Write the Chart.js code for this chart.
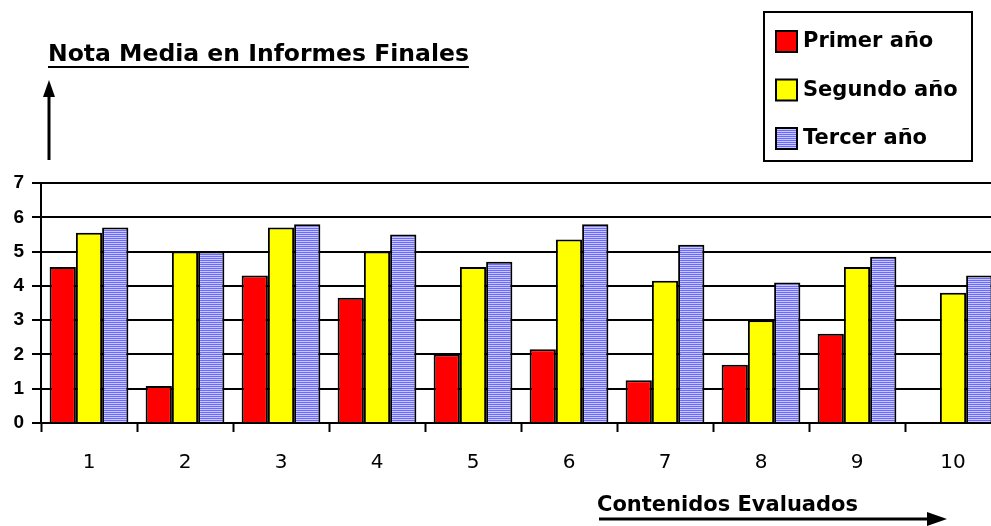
<!DOCTYPE html>
<html>
<head>
<meta charset="utf-8">
<script src="https://cdn.jsdelivr.net/npm/chart.js@4"></script>
<style>
    html, body { margin: 0; padding: 0; background: #fff; overflow: hidden; }
    #wrap { width: 1001px; height: 526px; position: relative; }
</style>
</head>
<body>
<div id="wrap"><canvas id="chart"></canvas></div>
<script>
const categories = ['1', '2', '3', '4', '5', '6', '7', '8', '9', '10'];
const primerAnio = [4.55, 1.08, 4.3, 3.65, 2.0, 2.15, 1.25, 1.7, 2.6, 0];
const segundoAnio = [5.55, 5.0, 5.7, 5.0, 4.55, 5.35, 4.15, 3.0, 4.55, 3.8];
const tercerAnio = [5.7, 5.0, 5.8, 5.5, 4.7, 5.8, 5.2, 4.1, 4.85, 4.3];
const seriesNames = ['Primer año', 'Segundo año', 'Tercer año'];
const yTitle = 'Nota Media en Informes Finales';
const xTitle = 'Contenidos Evaluados';

const FONT = '"DejaVu Sans", sans-serif';
Chart.defaults.font.family = FONT;
Chart.defaults.font.size = 18;
Chart.defaults.color = '#000';

function stripes() {
    const c = document.createElement('canvas');
    c.width = 4;
    c.height = 2;
    const g = c.getContext('2d');
    g.fillStyle = '#6a6aff';
    g.fillRect(0, 0, 4, 1);
    g.fillStyle = '#c8c8ff';
    g.fillRect(0, 1, 4, 1);
    return g.createPattern(c, 'repeat');
}
const bluePattern = stripes();

const decorPlugin = {
    id: 'decor',
    afterDraw(chart) {
        const ctx = chart.ctx;
        ctx.save();
        ctx.fillStyle = '#000';
        ctx.strokeStyle = '#000';
        ctx.textBaseline = 'alphabetic';
        ctx.textAlign = 'left';

        // y title (underlined) + up arrow
        ctx.font = 'bold 23.5px ' + FONT;
        ctx.fillText(yTitle, 48, 61);
        const w = ctx.measureText(yTitle).width;
        ctx.fillRect(48, 66, w, 2);
        ctx.lineWidth = 3;
        ctx.beginPath();
        ctx.moveTo(49, 160);
        ctx.lineTo(49, 95);
        ctx.stroke();
        ctx.beginPath();
        ctx.moveTo(49, 80);
        ctx.lineTo(43, 97);
        ctx.lineTo(55, 97);
        ctx.closePath();
        ctx.fill();

        // x title + right arrow (arrow shaft doubles as underline)
        ctx.font = 'bold 21px ' + FONT;
        ctx.fillText(xTitle, 597, 511);
        ctx.lineWidth = 3;
        ctx.beginPath();
        ctx.moveTo(599, 519);
        ctx.lineTo(930, 519);
        ctx.stroke();
        ctx.beginPath();
        ctx.moveTo(947, 519);
        ctx.lineTo(927, 512);
        ctx.lineTo(927, 526);
        ctx.closePath();
        ctx.fill();

        // legend box
        ctx.fillStyle = '#fff';
        ctx.fillRect(764, 12, 208, 149);
        ctx.lineWidth = 2;
        ctx.strokeRect(764, 12, 208, 149);
        ctx.font = 'bold 21px ' + FONT;
        chart.data.datasets.forEach((ds, i) => {
            const y = 31 + i * 48.5;
            ctx.fillStyle = ds.backgroundColor;
            ctx.fillRect(776, y, 21, 21);
            ctx.lineWidth = 2;
            ctx.strokeRect(776, y, 21, 21);
            ctx.fillStyle = '#000';
            ctx.textBaseline = 'middle';
            ctx.fillText(ds.label, 803, y + 11);
        });
        ctx.restore();
    }
};

const datasets = [
    { label: seriesNames[0], data: primerAnio, backgroundColor: '#ff0000' },
    { label: seriesNames[1], data: segundoAnio, backgroundColor: '#ffff00' },
    { label: seriesNames[2], data: tercerAnio, backgroundColor: bluePattern }
].map(d => Object.assign(d, {
    borderColor: '#000',
    borderWidth: 2,
    borderSkipped: 'bottom',
    categoryPercentage: 0.82,
    barPercentage: 1.0
}));

new Chart(document.getElementById('chart'), {
    type: 'bar',
    data: { labels: categories, datasets: datasets },
    plugins: [decorPlugin],
    options: {
        responsive: true,
        maintainAspectRatio: false,
        animation: false,
        devicePixelRatio: 1,
        layout: { padding: { top: 183, right: 0, bottom: 0, left: 0 } },
        plugins: {
            legend: { display: false },
            tooltip: { enabled: false }
        },
        scales: {
            x: {
                afterFit(scale) { scale.height = 103; },
                grid: {
                    offset: true,
                    drawOnChartArea: false,
                    drawTicks: true,
                    tickLength: 9,
                    tickWidth: 2,
                    tickColor: '#000'
                },
                border: { display: true, color: '#000', width: 2 },
                ticks: {
                    color: '#000',
                    padding: 19,
                    font: { size: 20 }
                }
            },
            y: {
                min: 0,
                max: 7,
                afterFit(scale) { scale.width = 41; },
                grid: {
                    color: '#000',
                    lineWidth: 2,
                    tickLength: 9,
                    tickColor: '#000'
                },
                border: { display: true, color: '#000', width: 2 },
                ticks: {
                    stepSize: 1,
                    color: '#000',
                    padding: 8,
                    font: { family: 'Liberation Sans', size: 19, weight: 'bold' }
                }
            }
        }
    }
});
</script>
</body>
</html>
